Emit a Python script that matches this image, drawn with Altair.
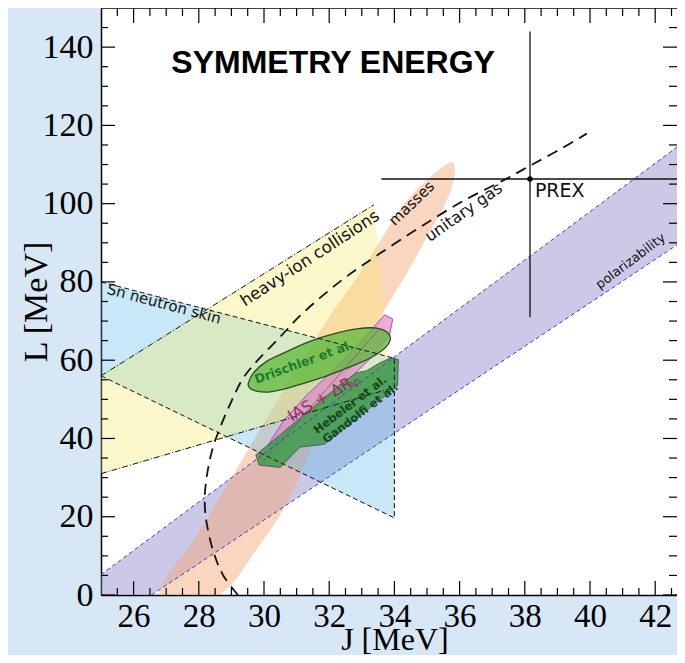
import altair as alt
import pandas as pd

# ---------------- data ----------------
x_major = [26, 28, 30, 32, 34, 36, 38, 40, 42]
x_minor = [25.5, 26.5, 27, 27.5, 28.5, 29, 29.5, 30.5, 31, 31.5, 32.5, 33, 33.5,
           34.5, 35, 35.5, 36.5, 37, 37.5, 38.5, 39, 39.5, 40.5, 41, 41.5, 42.5]
y_major = [0, 20, 40, 60, 80, 100, 120, 140]
y_minor = [5, 10, 15, 25, 30, 35, 45, 50, 55, 65, 70, 75, 85, 90, 95, 105, 110,
           115, 125, 130, 135, 145]

# polarizability band
polar_J = [25.0, 26.55, 43.0, 43.0, 25.0]
polar_L = [0.0, 0.0, 91.3, 116.5, 5.2]
polar_up_J = [25.0, 43.0]
polar_up_L = [5.2, 116.5]
polar_lo_J = [26.55, 43.0]
polar_lo_L = [0.0, 91.3]

# nuclear masses
masses_J = [26.8, 28.0, 29.0, 30.0, 31.0, 32.0, 33.0, 33.6, 34.3, 35.0, 35.5, 35.8,
            35.85, 35.75, 35.5, 35.1, 34.5, 33.5, 32.5, 31.6, 30.8, 29.8, 28.6]
masses_L = [0, 16, 30, 44, 58, 71, 83, 91, 100, 106, 109.5, 110.5,
            108, 104, 99, 93, 84, 70, 55, 40, 25, 12, 0]

# Sn neutron skin
skin_J = [25.0, 34.0, 34.0, 25.0]
skin_L = [80.0, 60.5, 19.7, 56.0]
skin_up_J = [25.0, 34.0, 34.0]
skin_up_L = [80.0, 60.5, 19.7]
skin_lo_J = [25.0, 34.0]
skin_lo_L = [56.0, 19.7]

# heavy-ion collisions
hic_J = [25.0, 25.0, 33.37, 33.9]
hic_L = [31.0, 56.0, 99.7, 52.8]
hic_up_J = [25.0, 33.37]
hic_up_L = [56.0, 99.7]
hic_lo_J = [25.0, 33.9]
hic_lo_L = [31.0, 52.8]

# IAS + dR_np
ias_J = [30.1, 30.6, 31.3, 32.2, 33.0, 33.7, 33.95, 33.85, 33.45, 32.9, 31.9, 31.0, 30.35]
ias_L = [38.0, 44.5, 51.0, 58.0, 65.0, 71.6, 70.5, 66.5, 62.0, 57.5, 50.0, 43.5, 38.5]
ias_mid_J = [29.98, 33.56]
ias_mid_L = [34.2, 68.2]

# Drischler et al. ellipse outline
dr_J = [29.52, 29.67, 30.08, 30.70, 31.41, 32.13, 32.84, 33.46, 33.81, 33.87, 33.71,
        33.25, 32.54, 31.72, 30.90, 30.18, 29.72, 29.55]
dr_L = [54.1, 56.7, 59.7, 62.2, 64.8, 66.7, 68.0, 68.2, 66.9, 65.2, 63.1,
        60.5, 58.0, 55.4, 53.3, 51.9, 52.2, 53.0]

# Hebeler / Gandolfi et al.
heb_J = [29.75, 29.85, 30.5, 31.1, 31.85, 34.1, 34.12, 33.9, 33.55, 33.15, 32.85, 32.4, 30.1]
heb_L = [35.8, 33.2, 32.6, 37.8, 38.5, 53.5, 60.2, 60.6, 59.3, 57.3, 56.8, 54.2, 38.2]

# unitary gas bound
ug_J = [29.2, 28.75, 28.45, 28.25, 28.18, 28.24, 28.4, 28.65, 29.0, 29.36, 29.83, 30.49,
        31.1, 31.8, 32.6, 33.56, 34.79, 36.11, 37.4, 38.16, 39.0, 39.9]
ug_L = [0, 5, 11, 18, 24, 30, 36.7, 42.7, 49.5, 55.4, 60.2, 65.9,
        71.3, 76.5, 81.8, 87.3, 94.0, 100.7, 106.2, 109.7, 113.5, 117.9]

# PREX
prex_J, prex_L = 38.16, 106.3
prex_J_lo, prex_J_hi = 33.6, 43.0
prex_L_lo, prex_L_hi = 71.0, 144.0

# labels: text, J, L, angle, size, weight, color, font
labels = [
    ("Sn neutron skin", 26.93, 74.4, 15, 15, "normal", "#111111", "DejaVu Sans"),
    ("heavy-ion collisions", 31.41, 86.0, 327, 16.5, "normal", "#111111", "DejaVu Sans"),
    ("masses", 34.53, 100.1, 316, 15, "normal", "#111111", "DejaVu Sans"),
    ("unitary gas", 36.13, 97.8, 325, 16, "normal", "#111111", "DejaVu Sans"),
    ("polarizability", 41.25, 85.3, 323, 13, "normal", "#111111", "DejaVu Sans"),
    ("Drischler et al.", 31.23, 59.5, 340, 12.5, "bold", "#1d7a2c", "DejaVu Sans"),
    ("IAS + ΔR", 31.72, 49.9, 330, 16, "normal", "#8e3070", "DejaVu Sans"),
    ("np", 32.76, 54.1, 330, 10, "normal", "#8e3070", "DejaVu Sans"),
    ("Hebeler et al.", 32.66, 48.5, 323, 11.5, "bold", "#16451c", "DejaVu Sans"),
    ("Gandolfi et al.", 32.97, 46.3, 323, 11.5, "bold", "#16451c", "DejaVu Sans"),
    ("SYMMETRY ENERGY", 32.12, 136.0, 0, 32, "bold", "#000000", "Liberation Sans"),
]
prex_label = ("PREX", 38.31, 103.3)

# ---------------- layout ----------------
W, H = 576, 587
PXJ = 32.6
XMAX = 25 + W / PXJ
xs = alt.Scale(domain=[25, XMAX], nice=False, zero=False)
ys = alt.Scale(domain=[0, 150], nice=False, zero=False)
SERIF = "Liberation Serif"

XA = alt.Axis(values=x_major, ticks=False, grid=False, domain=True,
              domainColor="black", domainWidth=1.5, labelFont=SERIF,
              labelFontSize=33, labelColor="black", labelPadding=5,
              labelFlush=False, labelOverlap=False, format="d",
              title="J [MeV]", titleFont=SERIF, titleFontSize=32,
              titleFontWeight="normal", titleColor="black",
              titleBaseline="alphabetic", titleX=9 * PXJ, titleY=54)
YA = alt.Axis(values=y_major, ticks=False, grid=False, domain=True,
              domainColor="black", domainWidth=1.5, labelFont=SERIF,
              labelFontSize=34, labelColor="black", labelPadding=8,
              labelFlush=False, labelOverlap=False, format="d",
              title="L [MeV]", titleFont=SERIF, titleFontSize=34,
              titleFontWeight="normal", titleColor="black",
              titleAngle=270, titleBaseline="alphabetic",
              titleX=-55, titleY=H / 2)


def X():
    return alt.X("J:Q", scale=xs, axis=XA)


def Y():
    return alt.Y("L:Q", scale=ys, axis=YA)


def poly(J, L, fill, op, stroke="transparent", sw=0.0, interp="linear-closed"):
    df = pd.DataFrame({"J": J, "L": L, "i": list(range(len(J)))})
    return alt.Chart(df).mark_line(
        fill=fill, fillOpacity=op, stroke=stroke, strokeWidth=sw,
        interpolate=interp, clip=True
    ).encode(x=X(), y=Y(), order="i:Q")


def line(J, L, color, sw, dash=None, interp="linear"):
    df = pd.DataFrame({"J": J, "L": L, "i": list(range(len(J)))})
    kw = dict(color=color, strokeWidth=sw, interpolate=interp, clip=True)
    if dash:
        kw["strokeDash"] = dash
    return alt.Chart(df).mark_line(**kw).encode(x=X(), y=Y(), order="i:Q")


layers = []
layers.append(poly(polar_J, polar_L, "#8f88cc", 0.45))
layers.append(poly(masses_J, masses_L, "#f6a46e", 0.45, interp="cardinal-closed"))
layers.append(poly(skin_J, skin_L, "#55b9e6", 0.32))
layers.append(poly(hic_J, hic_L, "#f7ec6a", 0.35))
layers.append(poly(ias_J, ias_L, "#e07ccc", 0.6, stroke="#a050c8", sw=1.0))
layers.append(poly(dr_J, dr_L, "#5cb838", 0.75, stroke="#2b4a26", sw=1.3,
                   interp="cardinal-closed"))
layers.append(poly(heb_J, heb_L, "#3d9a48", 0.85, stroke="#5a5a5a", sw=1.0))
layers.append(line(ias_mid_J, ias_mid_L, "#666666", 0.8))

layers.append(line(polar_up_J, polar_up_L, "#3a48b0", 1.0, [4, 3]))
layers.append(line(polar_lo_J, polar_lo_L, "#3a48b0", 1.0, [4, 3]))
layers.append(line(skin_up_J, skin_up_L, "#111111", 1.0, [5, 3]))
layers.append(line(skin_lo_J, skin_lo_L, "#111111", 1.0, [5, 3]))
layers.append(line(hic_up_J, hic_up_L, "#111111", 1.0, [6, 2, 1, 2]))
layers.append(line(hic_lo_J, hic_lo_L, "#111111", 1.0, [6, 2, 1, 2]))
layers.append(line(ug_J, ug_L, "#111111", 1.8, [11, 7], interp="cardinal"))

# PREX cross
layers.append(line([prex_J_lo, prex_J_hi], [prex_L, prex_L], "#111111", 1.3))
layers.append(line([prex_J, prex_J], [prex_L_lo, prex_L_hi], "#111111", 1.3))
prex_df = pd.DataFrame({"J": [prex_J], "L": [prex_L]})
layers.append(alt.Chart(prex_df).mark_point(filled=True, color="#000000", size=30,
                                            opacity=1).encode(x=X(), y=Y()))
pl_df = pd.DataFrame({"J": [prex_label[1]], "L": [prex_label[2]], "t": [prex_label[0]]})
layers.append(alt.Chart(pl_df).mark_text(align="left", baseline="middle", font="DejaVu Sans",
                                         fontSize=19, color="#111111").encode(
    x=X(), y=Y(), text="t:N"))

for (t, j, l, ang, fs, fw, col, fnt) in labels:
    d = pd.DataFrame({"J": [j], "L": [l], "t": [t]})
    layers.append(alt.Chart(d).mark_text(align="center", baseline="middle", angle=ang,
                                         fontSize=fs, fontWeight=fw, color=col,
                                         font=fnt).encode(x=X(), y=Y(), text="t:N"))


# inward ticks on all four sides
def xticks(vals, length, top):
    d = pd.DataFrame({"J": vals})
    if top:
        yy = dict(y=alt.value(0), y2=alt.value(length))
    else:
        yy = dict(y=alt.value(H), y2=alt.value(H - length))
    return alt.Chart(d).mark_rule(color="black", strokeWidth=1.2).encode(x=X(), **yy)


def yticks(vals, length, right):
    d = pd.DataFrame({"L": vals})
    if right:
        xx = dict(x=alt.value(W), x2=alt.value(W - length))
    else:
        xx = dict(x=alt.value(0), x2=alt.value(length))
    return alt.Chart(d).mark_rule(color="black", strokeWidth=1.2).encode(y=Y(), **xx)


layers += [xticks(x_major, 14, False), xticks(x_minor, 7, False),
           xticks(x_major, 15, True), xticks(x_minor, 8, True),
           yticks(y_major, 14, False), yticks(y_minor, 7, False),
           yticks(y_major, 14, True), yticks(y_minor, 8, True)]

frame_df = pd.DataFrame({"k": [0]})
layers.append(alt.Chart(frame_df).mark_rule(color="black", strokeWidth=1.5).encode(
    x=alt.value(0), x2=alt.value(W), y=alt.value(0)))

chart = alt.layer(*layers).properties(
    width=W, height=H,
    autosize=alt.AutoSizeParams(type="none"),
    padding={"left": 93, "top": 0, "right": 0, "bottom": 60},
    background="#d8e7f6",
).configure_view(stroke=None, fill="white")

chart.save("out.html", embed_options={"renderer": "svg", "actions": False})
